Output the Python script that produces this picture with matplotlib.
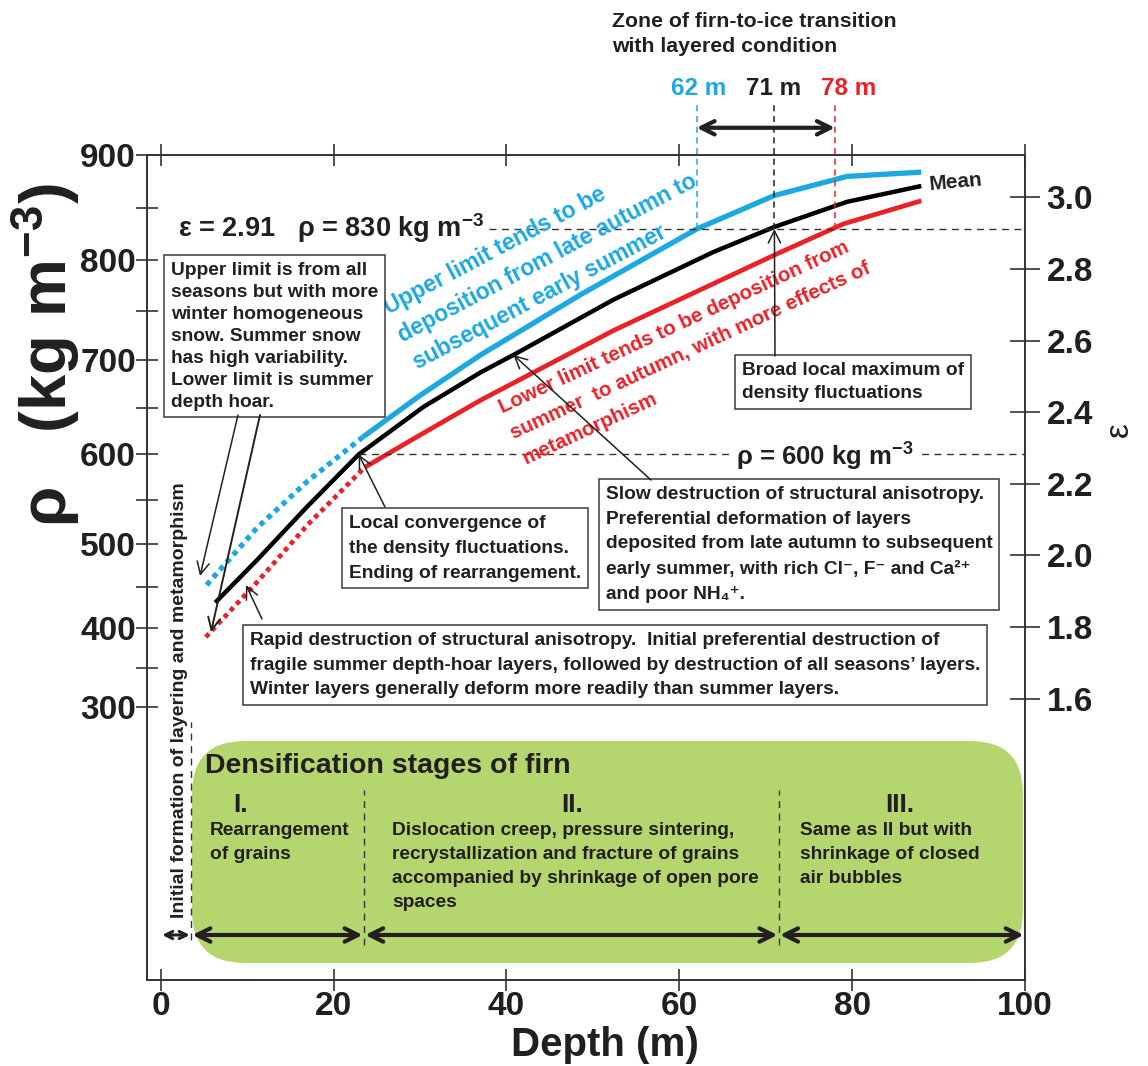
import numpy as np
import matplotlib.pyplot as plt
from matplotlib.patches import FancyBboxPatch

plt.rcParams['font.family'] = ['Liberation Sans', 'DejaVu Sans']
plt.rcParams['font.weight'] = 'bold'
plt.rcParams['mathtext.fontset'] = 'custom'
plt.rcParams['mathtext.rm'] = 'Liberation Sans:bold'
plt.rcParams['mathtext.it'] = 'Liberation Sans:bold'
plt.rcParams['mathtext.bf'] = 'Liberation Sans:bold'
plt.rcParams['mathtext.sf'] = 'Liberation Sans'

# density (kg m^-3) against depth (m); dotted parts are the shallow sections
upper_dotted_depth = [5.3, 11.1, 16.9, 23.4]
upper_dotted_rho = [452, 518, 570, 619]
upper_depth = [23.4, 30, 37, 48.6, 62, 71, 79.4, 88]
upper_rho = [619, 663, 705, 766, 830, 862, 880, 884]

mean_depth = [6.3, 11.1, 16.9, 22.9, 30.4, 37, 40.8, 52.4, 64, 71, 79.4, 88]
mean_rho = [431, 481, 542, 600, 651, 687, 705, 761, 808, 832, 856, 871]

lower_dotted_depth = [5.2, 11.1, 17, 23.6]
lower_dotted_rho = [389, 455, 522, 586]
lower_depth = [23.6, 30, 37, 52.4, 71.3, 79, 88]
lower_rho = [586, 621, 658, 730, 806, 835, 857]

transition_depths = [62, 71, 78]
transition_rho = 830
transition_eps = 2.91
convergence_depth = 22.9
convergence_rho = 600
stage_bounds = [0, 3.5, 23.5, 71.5, 100]

rho_ticks = [300, 400, 500, 600, 700, 800, 900]
eps_ticks = [1.6, 1.8, 2.0, 2.2, 2.4, 2.6, 2.8, 3.0]
depth_ticks = [0, 20, 40, 60, 80, 100]

BLUE = '#1DA8E2'
RED = '#EB2128'
GREEN = '#B5D66E'
EDGE = '#3a3a3a'
INK = '#231F20'

# permittivity of firn from density (Robin), rho in kg m^-3
K = 0.000851


def rho_to_eps(r):
    return (1 + K * np.asarray(r, dtype=float)) ** 2


def eps_to_rho(e):
    return (np.sqrt(np.clip(np.asarray(e, dtype=float), 1e-9, None)) - 1) / K


W, H = 1148, 1066
FRAME = (147, 155, 1025, 980)  # left, top, right, bottom in pixels


def at(x, y):
    l, t, r, b = FRAME
    return ((x - l) / (r - l), (b - y) / (b - t))


fig = plt.figure(figsize=(W / 100, H / 100), dpi=100)
l, t, r, b = FRAME
ax = fig.add_axes([l / W, 1 - b / H, (r - l) / W, (b - t) / H])
ax.set_yscale('function', functions=(rho_to_eps, eps_to_rho))
ax.set_xlim(-1.6, 100)
ax.set_ylim(-115, 900)

axr = ax.twinx()
axr.set_ylim(rho_to_eps(-115), rho_to_eps(900))

# curves
ax.plot(upper_dotted_depth, upper_dotted_rho, color=BLUE, lw=3.8, ls=(0, (1, 0.9)))
ax.plot(upper_depth, upper_rho, color=BLUE, lw=3.8, solid_capstyle='butt')
ax.plot(mean_depth, mean_rho, color='black', lw=3.2, solid_capstyle='butt')
ax.plot(lower_dotted_depth, lower_dotted_rho, color=RED, lw=3.4, ls=(0, (1, 0.9)))
ax.plot(lower_depth, lower_rho, color=RED, lw=3.4, solid_capstyle='butt')
ax.text(*at(928, 182), 'Mean', transform=ax.transAxes, ha='left', va='center',
        fontsize=15, rotation=5, color=INK)

# reference densities
dash = (0, (5, 4))
ax.plot([38, 100], [transition_rho] * 2, color='#333333', lw=1.0, ls=dash)
ax.plot([convergence_depth, 100], [convergence_rho] * 2, color='#333333', lw=1.0, ls=dash)
ax.text(*at(178, 228), f'$\\mathsf{{ε}}$ = {transition_eps}   $\\mathsf{{ρ}}$ = {transition_rho} kg m$^{{-3}}$',
        transform=ax.transAxes, ha='left', va='center', fontsize=19.5, color=INK)
ax.text(*at(825, 457), f'$\\mathsf{{ρ}}$ = {convergence_rho} kg m$^{{-3}}$', transform=ax.transAxes,
        ha='center', va='center', fontsize=18.5, color=INK,
        bbox=dict(boxstyle='square,pad=0.25', fc='white', ec='none'))

# firn-to-ice transition depths
xtrans = ax.get_xaxis_transform()
label_shift = [0.2, -0.1, 1.6]
for d, c, s in zip(transition_depths, [BLUE, INK, RED], label_shift):
    ax.plot([d, d], [transition_rho, 946], color=c, lw=1.1, ls=(0, (4, 3)), clip_on=False)
    ax.text(d + s, 1.081, f'{d} m', transform=xtrans, ha='center', va='center',
            color=c, fontsize=17.5)
ax.annotate('', xy=(transition_depths[0], 1.033), xytext=(transition_depths[-1], 1.033),
            xycoords=xtrans, textcoords=xtrans, annotation_clip=False,
            arrowprops=dict(arrowstyle='<->', lw=3, color=INK, mutation_scale=24,
                            shrinkA=0, shrinkB=0))
ax.text(*at(612, 34), 'Zone of firn-to-ice transition\nwith layered condition',
        transform=ax.transAxes, ha='left', va='center', fontsize=15.3, linespacing=1.35,
        color=INK)

# curve captions
ax.text(*at(380, 299), 'Upper limit tends to be\ndeposition from late autumn to\nsubsequent early summer',
        transform=ax.transAxes, ha='left', va='top', multialignment='left',
        rotation=28, rotation_mode='anchor', color=BLUE, fontsize=16.5, linespacing=1.45)
ax.text(*at(496, 400), 'Lower limit tends to be deposition from\nsummer  to autumn, with more effects of\nmetamorphism',
        transform=ax.transAxes, ha='left', va='top', multialignment='left',
        rotation=25, rotation_mode='anchor', color=RED, fontsize=14.8, linespacing=1.6)

box = dict(boxstyle='square,pad=0.35', fc='white', ec=EDGE, lw=1.1)
arrow = dict(arrowstyle='->', lw=1.1, color=INK, mutation_scale=22, shrinkA=0, shrinkB=0)

ax.text(*at(171, 262), 'Upper limit is from all\nseasons but with more\nwinter homogeneous\n'
        'snow. Summer snow\nhas high variability.\nLower limit is summer\ndepth hoar.',
        transform=ax.transAxes, ha='left', va='top', fontsize=13.8, linespacing=1.38,
        color=INK, bbox=box)
ax.annotate('', xy=at(200, 576), xytext=at(238, 415), xycoords='axes fraction', arrowprops=arrow)
ax.annotate('', xy=at(211, 632), xytext=at(260, 415), xycoords='axes fraction',
            arrowprops=dict(arrow, lw=1.4))

ax.text(*at(742, 362), 'Broad local maximum of\ndensity fluctuations', transform=ax.transAxes,
        ha='left', va='top', fontsize=13.8, linespacing=1.45, color=INK, bbox=box)
ax.annotate('', xy=(71, transition_rho), xytext=at(775, 356), textcoords='axes fraction',
            arrowprops=arrow)

ax.text(*at(606, 486), 'Slow destruction of structural anisotropy.\nPreferential deformation of layers\n'
        'deposited from late autumn to subsequent\nearly summer, with rich Cl\u207b, F\u207b and Ca\u00b2\u207a\n'
        'and poor NH\u2084\u207a.', transform=ax.transAxes, ha='left', va='top',
        fontsize=13.8, linespacing=1.58, color=INK, bbox=box)
ax.annotate('', xy=(40.8, 705), xytext=at(651, 480), textcoords='axes fraction', arrowprops=arrow)

ax.text(*at(349, 515), 'Local convergence of\nthe density fluctuations.\nEnding of rearrangement.',
        transform=ax.transAxes, ha='left', va='top', fontsize=13.8, linespacing=1.6,
        color=INK, bbox=box)
ax.annotate('', xy=(convergence_depth, convergence_rho), xytext=at(385, 507),
            textcoords='axes fraction', arrowprops=arrow)

ax.text(*at(250, 632), 'Rapid destruction of structural anisotropy.  Initial preferential destruction of\n'
        'fragile summer depth-hoar layers, followed by destruction of all seasons\u2019 layers.\n'
        'Winter layers generally deform more readily than summer layers.',
        transform=ax.transAxes, ha='left', va='top', fontsize=13.8, linespacing=1.58,
        color=INK, bbox=box)
ax.annotate('', xy=at(246, 585), xytext=at(262, 619), xycoords='axes fraction', arrowprops=arrow)

# densification stages
x0, y0 = at(192, 963)
x1, y1 = at(1023, 741)
ax.add_patch(FancyBboxPatch((x0, y0), x1 - x0, y1 - y0, boxstyle='round,pad=0,rounding_size=0.06',
                            mutation_aspect=(r - l) / (b - t), transform=ax.transAxes,
                            fc=GREEN, ec='none', zorder=0.5))
ax.plot([stage_bounds[1]] * 2, [at(0, 940)[1], at(0, 722)[1]], transform=xtrans,
        color='#333333', lw=1.0, ls=dash)
for d in stage_bounds[2:4]:
    ax.plot([d, d], [at(0, 945)[1], at(0, 790)[1]], transform=xtrans,
            color='#333333', lw=1.0, ls=dash)
for a, c in zip(stage_bounds[:-1], stage_bounds[1:]):
    short = c - a < 5
    ax.annotate('', xy=(c - 0.15, at(0, 935)[1]), xytext=(a + 0.15, at(0, 935)[1]),
                xycoords=xtrans, textcoords=xtrans,
                arrowprops=dict(arrowstyle='<->', lw=2.2 if short else 3, color=INK,
                                mutation_scale=13 if short else 24, shrinkA=0, shrinkB=0))

ax.text(*at(180, 700), 'Initial formation of layering and metamorphism', transform=ax.transAxes,
        rotation=90, ha='center', va='center', fontsize=14, color=INK)
ax.text(*at(205, 766), 'Densification stages of firn', transform=ax.transAxes,
        ha='left', va='center', fontsize=20.5, color=INK)
for (lx, ly), num in zip([(241, 805), (572, 805), (900, 805)], ['I.', 'II.', 'III.']):
    ax.text(*at(lx, ly), num, transform=ax.transAxes, ha='center', va='center',
            fontsize=19, color=INK)
stage_texts = ['Rearrangement\nof grains',
               'Dislocation creep, pressure sintering,\nrecrystallization and fracture of grains\n'
               'accompanied by shrinkage of open pore\nspaces',
               'Same as II but with\nshrinkage of closed\nair bubbles']
for (lx, ly), txt in zip([(210, 822), (392, 822), (800, 822)], stage_texts):
    ax.text(*at(lx, ly), txt, transform=ax.transAxes, ha='left', va='top',
            fontsize=13.8, linespacing=1.55, color=INK)

# axes
for axis in (ax, axr):
    for sp in axis.spines.values():
        sp.set_color('#333333')
        sp.set_linewidth(1.2)

ax.set_yticks(rho_ticks)
ax.set_yticks([350, 450, 550, 650, 750, 850], minor=True)
ax.set_yticklabels([str(v) for v in rho_ticks])
ax.tick_params(axis='y', which='both', direction='inout', length=16, width=1.2,
               color='#333333', labelcolor=INK, labelsize=24, pad=0)

axr.set_yticks(eps_ticks)
axr.set_yticklabels([f'{v:.1f}' for v in eps_ticks])
axr.tick_params(axis='y', direction='inout', length=21, width=1.2, color='#333333',
                labelcolor=INK, labelsize=24, pad=5)

ax.set_xticks(depth_ticks)
ax.set_xticklabels([str(v) for v in depth_ticks])
ax.tick_params(axis='x', which='both', top=True, direction='inout', length=16, width=1.2,
               color='#333333', labelcolor=INK, labelsize=24, pad=0)

ax.set_ylabel('$\\mathsf{ρ}$   (kg m$^{-3}$)', fontsize=47, fontweight='bold', color=INK)
ax.yaxis.set_label_coords(*at(82, 355))
axr.set_ylabel('ε', rotation=90, fontsize=24, fontweight='normal', color=INK)
axr.yaxis.set_label_coords(*at(1104, 430))
ax.set_xlabel('Depth (m)', fontsize=29, fontweight='bold', color=INK)
ax.xaxis.set_label_coords(*at(605, 1026))

fig.savefig('out.png', dpi=100, facecolor='white')
